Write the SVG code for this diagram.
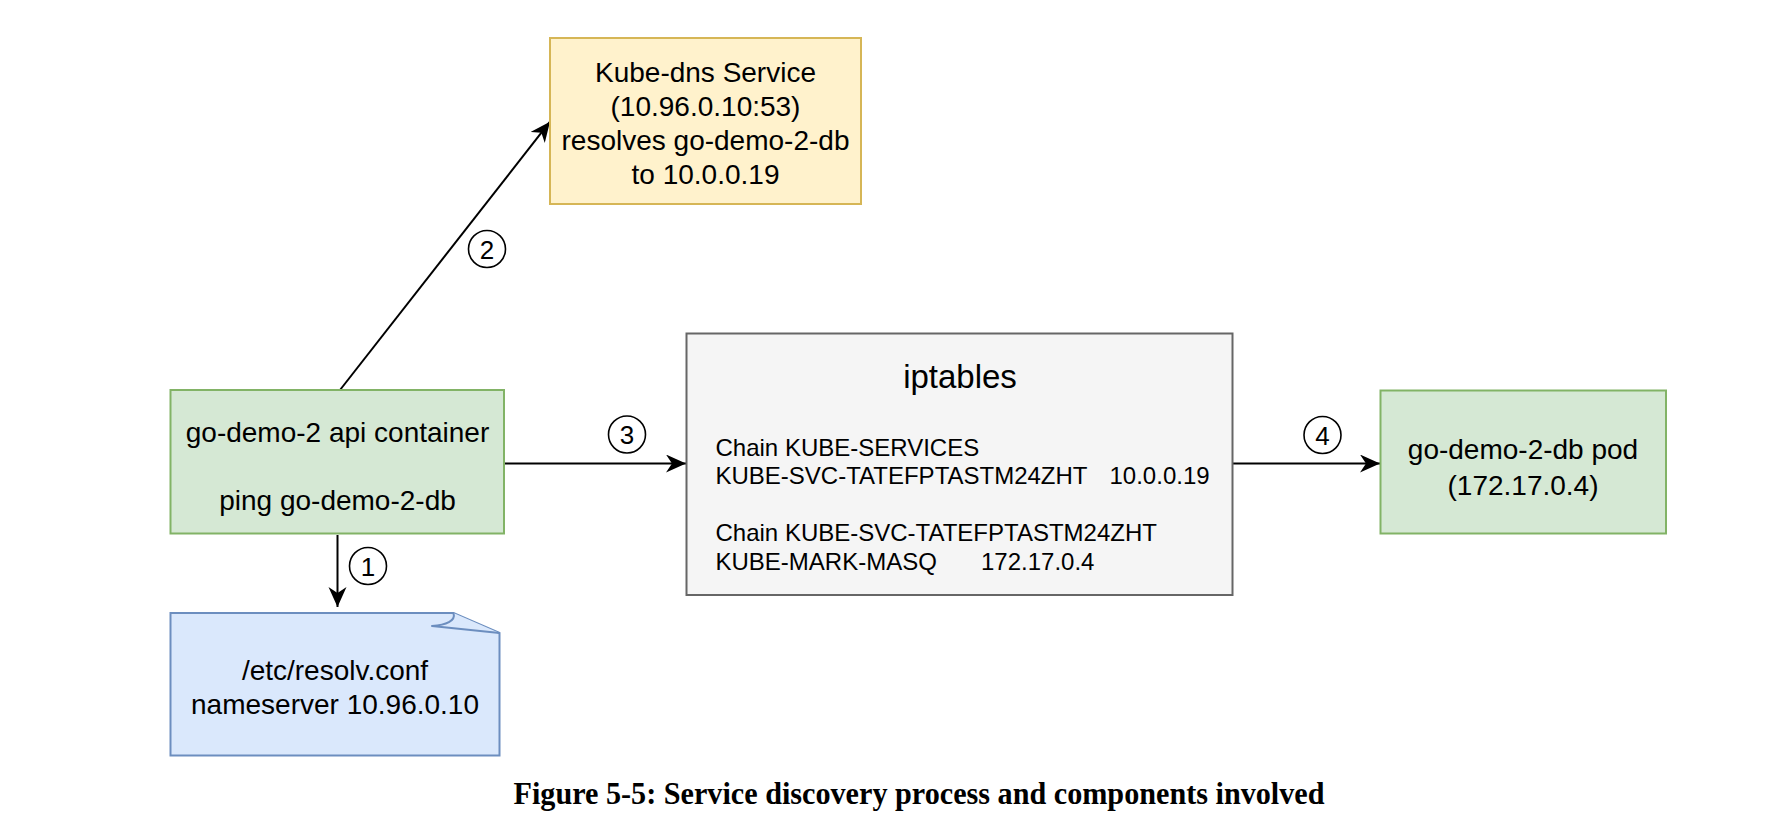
<svg xmlns="http://www.w3.org/2000/svg" width="1790" height="840" viewBox="0 0 1790 840">
<style>
.node{font-family:"Liberation Sans",Arial,sans-serif;font-size:28px;fill:#000;text-anchor:middle}
.small{font-family:"Liberation Sans",Arial,sans-serif;font-size:24px;fill:#000}
.title{font-family:"Liberation Sans",Arial,sans-serif;font-size:33px;fill:#000;text-anchor:middle}
.lbl{font-family:"Liberation Sans",Arial,sans-serif;font-size:26px;fill:#000;text-anchor:middle}
.edge{stroke:#000;stroke-width:2;fill:none}
.badge{fill:#fff;stroke:#000;stroke-width:1.6}
.cap{font-family:"Liberation Serif","Times New Roman",serif;font-weight:bold;font-size:31px;fill:#000}
</style>
<defs>
<marker id="arr" markerUnits="userSpaceOnUse" markerWidth="22" markerHeight="20" refX="20" refY="9" orient="auto">
<path d="M0,0 L20,9 L0,18 L6,9 Z" fill="#000"/>
</marker>
</defs>
<rect width="1790" height="840" fill="#fff"/>
<g id="connectors">
<line class="edge" x1="337.5" y1="535" x2="337.5" y2="607" marker-end="url(#arr)"/>
<line class="edge" x1="340" y1="390" x2="550" y2="121.7" marker-end="url(#arr)"/>
<line class="edge" x1="504" y1="463.5" x2="686" y2="463.5" marker-end="url(#arr)"/>
<line class="edge" x1="1232" y1="463.5" x2="1380" y2="463.5" marker-end="url(#arr)"/>
<g id="label1"><circle class="badge" cx="368" cy="566" r="18.5"/><text class="lbl" x="368" y="575.5">1</text></g>
<g id="label2"><circle class="badge" cx="487" cy="249" r="18.5"/><text class="lbl" x="487" y="258.5">2</text></g>
<g id="label3"><circle class="badge" cx="627" cy="434.5" r="18.5"/><text class="lbl" x="627" y="444">3</text></g>
<g id="label4"><circle class="badge" cx="1322.5" cy="435" r="18.5"/><text class="lbl" x="1322.5" y="444.5">4</text></g>
</g>
<g id="kube-dns">
<rect x="550" y="38" width="311" height="166" fill="#fff2cc" stroke="#d6b656" stroke-width="2"/>
<text class="node" x="705.5" y="81.5">Kube-dns Service</text>
<text class="node" x="705.5" y="115.5">(10.96.0.10:53)</text>
<text class="node" x="705.5" y="149.5">resolves go-demo-2-db</text>
<text class="node" x="705.5" y="183.5">to 10.0.0.19</text>
</g>
<g id="api-container">
<rect x="170.5" y="390" width="333.5" height="143.5" fill="#d5e8d4" stroke="#82b366" stroke-width="2"/>
<text class="node" x="337.5" y="441.5">go-demo-2 api container</text>
<text class="node" x="337.5" y="509.5">ping go-demo-2-db</text>
</g>
<g id="resolv-conf">
<path d="M170.5,613 L453.5,613 L499.5,633 L499.5,755.5 L170.5,755.5 Z" fill="#dae8fc" stroke="#6c8ebf" stroke-width="2"/>
<path d="M453.5,613 C456,621 446,625 432,626 L499.5,633" fill="#dae8fc" stroke="#6c8ebf" stroke-width="2" stroke-linejoin="round"/>
<text class="node" x="335" y="680">/etc/resolv.conf</text>
<text class="node" x="335" y="714">nameserver 10.96.0.10</text>
</g>
<g id="iptables">
<rect x="686.5" y="333.5" width="546" height="261.5" fill="#f5f5f5" stroke="#666666" stroke-width="2"/>
<text class="title" x="960" y="387.5">iptables</text>
<text class="small" x="715.5" y="456">Chain KUBE-SERVICES</text>
<text class="small" y="484"><tspan x="715.5">KUBE-SVC-TATEFPTASTM24ZHT</tspan><tspan x="1109.5">10.0.0.19</tspan></text>
<text class="small" x="715.5" y="541">Chain KUBE-SVC-TATEFPTASTM24ZHT</text>
<text class="small" y="570"><tspan x="715.5">KUBE-MARK-MASQ</tspan><tspan x="981">172.17.0.4</tspan></text>
</g>
<g id="db-pod">
<rect x="1380.5" y="390.5" width="285.5" height="143" fill="#d5e8d4" stroke="#82b366" stroke-width="2"/>
<text class="node" x="1523" y="459">go-demo-2-db pod</text>
<text class="node" x="1523" y="495">(172.17.0.4)</text>
</g>
<text class="cap" x="513.5" y="804" textLength="811" lengthAdjust="spacingAndGlyphs">Figure 5-5: Service discovery process and components involved</text>
</svg>
